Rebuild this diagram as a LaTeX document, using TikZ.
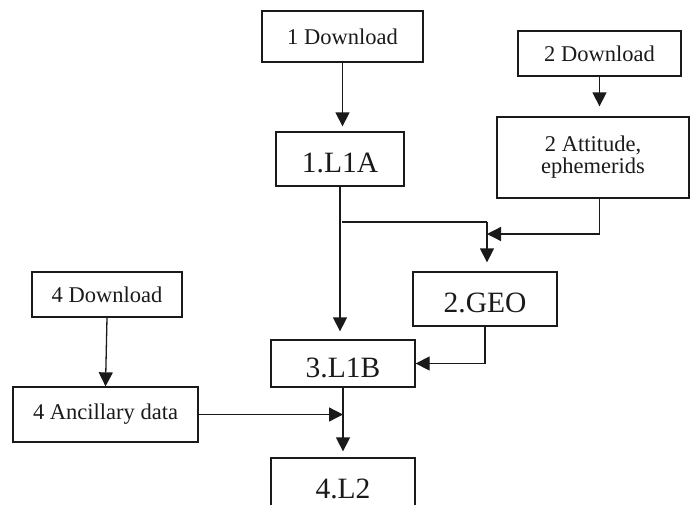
\documentclass[tikz,border=0pt]{standalone}
\usepackage{fontspec}
\setmainfont{Liberation Serif}
\usepackage{tikz}
\usetikzlibrary{calc,arrows.meta}
\definecolor{ink}{HTML}{1A1A1A}
\tikzset{
  box/.style={draw=ink, line width=1.3pt, inner sep=0pt, align=center, text=ink,
    font=\fontsize{22.5}{22}\selectfont},
  bigbox/.style={box, font=\fontsize{29.5}{32}\selectfont, text height=27.5pt, text depth=0pt},
  link/.style={draw=ink, line width=1.3pt},
  arr/.style={link, -{Triangle[length=14pt,width=14pt]}},
}
\begin{document}
\begin{tikzpicture}[x=1pt,y=-1pt]
  \path[use as bounding box, clip] (0,0) rectangle (691,504);
  \fill[white] (0,0) rectangle (691,504);

  \node[box, minimum width=161, minimum height=51] (dlA) at (342.5,36.5) {1 Download};
  \node[bigbox, minimum width=128, minimum height=54] (lA) at (340,159) {1.L1A};
  \node[box, minimum width=163, minimum height=45] (dlB) at (599.5,53.5) {2 Download};
  \node[box, minimum width=192, minimum height=81] (att) at (593,157.5) {2 Attitude,\\ephemerids};
  \node[bigbox, minimum width=144, minimum height=54] (geo) at (485,299) {2.GEO};
  \node[bigbox, minimum width=144, minimum height=47] (lB) at (343,363.5) {3.L1B};
  \node[box, minimum width=150, minimum height=45] (dlD) at (107,294.5) {4 Download};
  \node[box, minimum width=185, minimum height=55] (anc) at (105.5,414.5) {4 Ancillary data};
  \node[bigbox, minimum width=144, minimum height=54] (ltwo) at (343,485) {4.L2};

  \coordinate (split) at (342,222);
  \coordinate (meet) at (487,234);

  \draw[arr, shorten >=5pt] (dlA.south) -- (dlA.south |- lA.north);
  \draw[arr, shorten >=10pt] (dlB.south) -- (dlB.south |- att.north);
  \draw[arr, shorten >=8pt] (lA.south) -- (lA.south |- lB.north);
  \draw[link] (split) -- (meet |- split);
  \draw[arr, shorten >=9pt] (meet |- split) -- (meet |- geo.north);
  \draw[arr] (att.south -| dlB.south) |- (meet);
  \draw[arr] (geo.south) |- (lB.east);
  \draw[arr] (dlD.south) -- (anc.north);
  \draw[arr] (anc.east) -- (anc.east -| lB.south);
  \draw[arr, shorten >=6pt] (lB.south) -- (ltwo.north);
\end{tikzpicture}
\end{document}
